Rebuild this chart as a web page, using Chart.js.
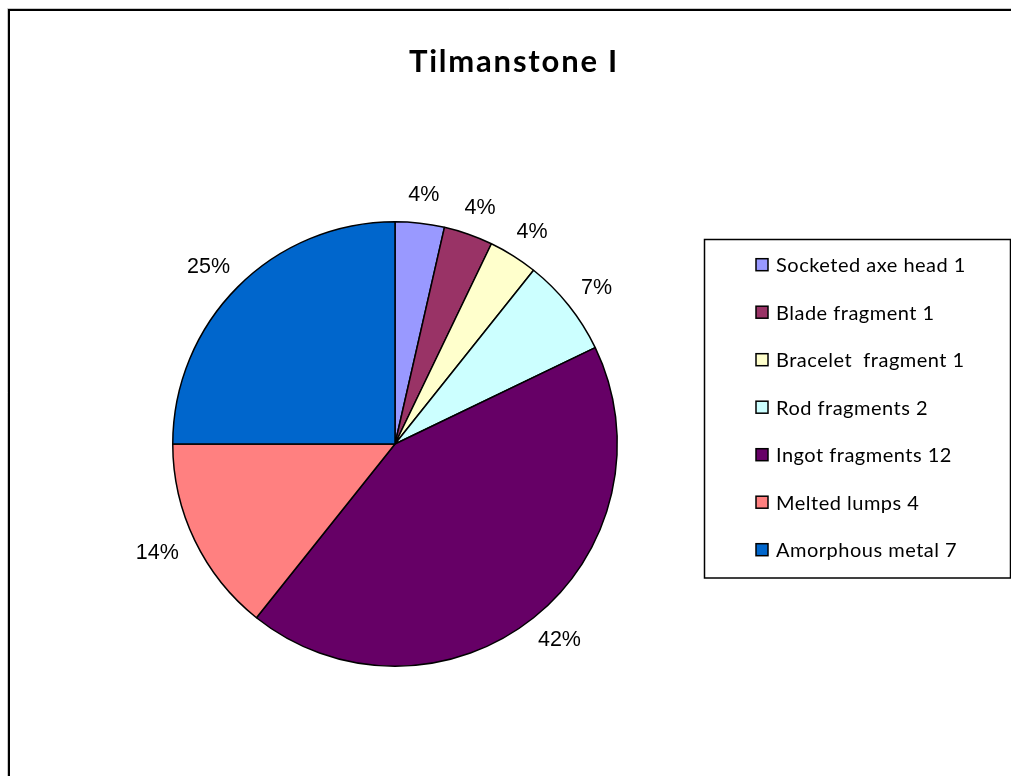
<!DOCTYPE html>
<html>
<head>
<meta charset="utf-8">
<script src="https://cdn.jsdelivr.net/npm/chart.js@4/dist/chart.umd.min.js"></script>
<style>
html,body{margin:0;padding:0;background:#fff;}
canvas{display:block;}
</style>
</head>
<body>
<canvas id="c" width="1011" height="776"></canvas>
<script>
const chartTitle = "Tilmanstone I";
const categories = ["Socketed axe head 1","Blade fragment 1","Bracelet  fragment 1","Rod fragments 2","Ingot fragments 12","Melted lumps 4","Amorphous metal 7"];
const values = [1, 1, 1, 2, 12, 4, 7];
const pctLabels = ["4%","4%","4%","7%","42%","14%","25%"];
const colors = ["#9999FF","#993366","#FFFFCC","#CCFFFF","#660066","#FF8080","#0066CC"];

const decor = {
  id: 'decor',
  beforeDraw(chart) {
    const ctx = chart.ctx;
    ctx.save();
    ctx.fillStyle = '#fff';
    ctx.fillRect(0, 0, chart.width, chart.height);
    // outer frame
    ctx.strokeStyle = '#c8c8c8';
    ctx.lineWidth = 1;
    ctx.beginPath();
    ctx.moveTo(7.5, 1100); ctx.lineTo(7.5, 8.5); ctx.lineTo(1100, 8.5);
    ctx.stroke();
    ctx.strokeStyle = '#000';
    ctx.lineWidth = 2;
    ctx.beginPath();
    ctx.moveTo(9, 1100); ctx.lineTo(9, 10); ctx.lineTo(1100, 10);
    ctx.stroke();
    ctx.restore();
  },
  afterDraw(chart) {
    const ctx = chart.ctx;
    ctx.save();
    // title
    ctx.fillStyle = '#000';
    ctx.font = 'bold 31px Lato';
    ctx.letterSpacing = '1.8px';
    ctx.textAlign = 'center';
    ctx.textBaseline = 'middle';
    ctx.fillText(chartTitle, 514, 62);
    ctx.letterSpacing = '0px';

    // percentage labels
    const meta = chart.getDatasetMeta(0);
    ctx.font = '21.5px "Liberation Sans", Arial';
    meta.data.forEach((arc, i) => {
      const p = arc.getProps(['x','y','startAngle','endAngle','outerRadius'], true);
      const mid = (p.startAngle + p.endAngle) / 2;
      const ux = Math.cos(mid), uy = Math.sin(mid);
      const r = p.outerRadius + 20;
      const w = ctx.measureText(pctLabels[i]).width;
      const h = 16;
      const cx = p.x + ux * r + ux * w / 2;
      const cy = p.y + uy * r + uy * h / 2;
      ctx.fillText(pctLabels[i], cx, cy);
    });

    // legend
    ctx.strokeStyle = '#000';
    ctx.lineWidth = 1.5;
    ctx.strokeRect(704.5, 239.5, 306, 338.5);
    ctx.font = '20px Lato';
    ctx.letterSpacing = '0.5px';
    ctx.textAlign = 'left';
    categories.forEach((lab, i) => {
      const y = 264.7 + i * 47.5;
      ctx.fillStyle = colors[i];
      ctx.fillRect(756, y - 6, 12, 12);
      ctx.lineWidth = 1.5;
      ctx.strokeStyle = '#000';
      ctx.strokeRect(756, y - 6, 12, 12);
      ctx.fillStyle = '#000';
      ctx.fillText(lab, 776, y + 1);
    });
    ctx.restore();
  }
};

new Chart(document.getElementById('c'), {
  type: 'pie',
  data: {
    labels: categories,
    datasets: [{
      data: values,
      backgroundColor: colors,
      borderColor: '#000',
      borderWidth: 1.5
    }]
  },
  options: {
    responsive: false,
    animation: false,
    layout: { padding: { left: 172, right: 393, top: 221, bottom: 109 } },
    plugins: {
      legend: { display: false },
      title: { display: false },
      tooltip: { enabled: false }
    }
  },
  plugins: [decor]
});
</script>
</body>
</html>
